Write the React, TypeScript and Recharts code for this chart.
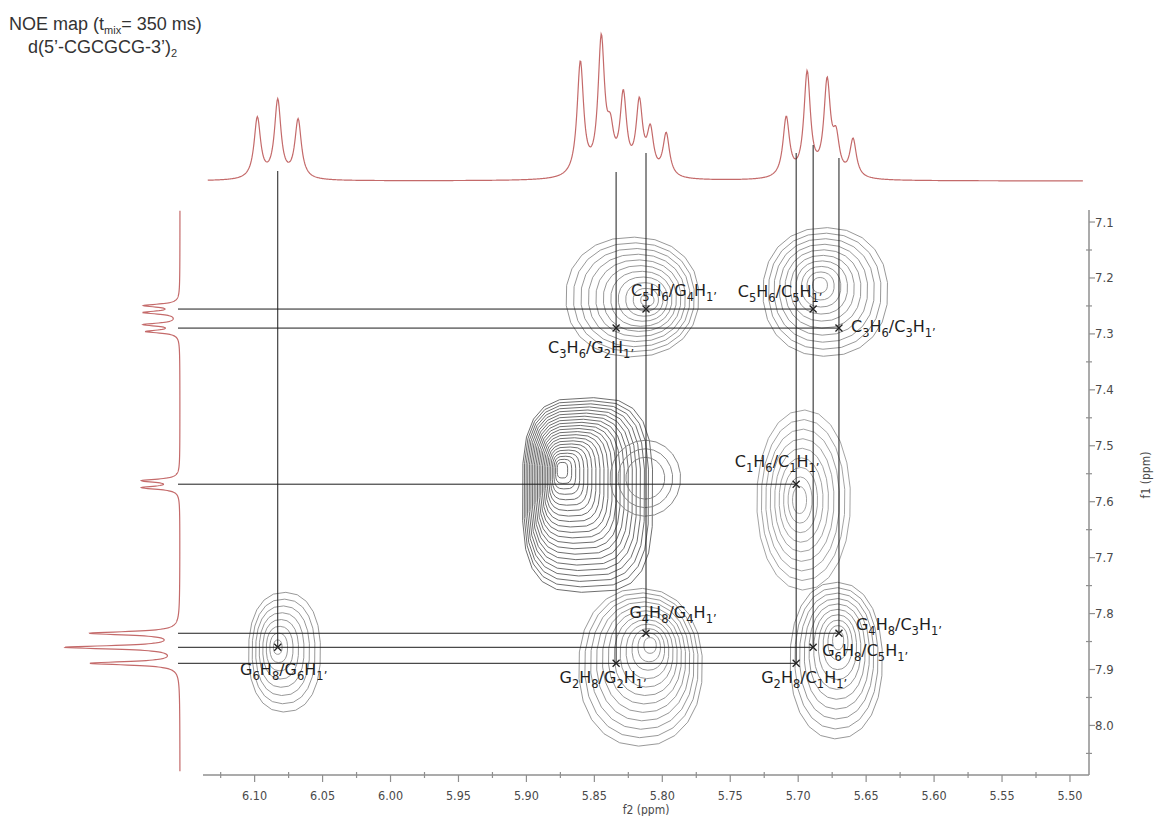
import React from "react";
import { ComposedChart, Line, Scatter, XAxis, YAxis } from "recharts";

const W = 1159;
const H = 816;

// H1' sugar protons, f2 shift (ppm)
const sugarNames = ["G6", "G2", "G4", "C1", "C5", "C3"];
const sugarShifts = [6.083, 5.834, 5.812, 5.7015, 5.689, 5.67];

// aromatic H6/H8 protons, f1 shift (ppm)
const baseNames = ["C5H6", "C3H6", "C1H6", "G4H8", "G6H8", "G2H8"];
const baseShifts = [7.2556, 7.2896, 7.5687, 7.8352, 7.8603, 7.8889];

// assigned NOE cross peaks (aromatic proton / H1')
const crossBase = ["C5H6", "C5H6", "C3H6", "C3H6", "C1H6", "G4H8", "G4H8", "G6H8", "G6H8", "G2H8", "G2H8"];
const crossSugar = ["G4", "C5", "C3", "G2", "C1", "G4", "C3", "G6", "C5", "G2", "C1"];

// 1D trace on top (f2): peak ppm, height, half width
const topPeakPpm = [6.098, 6.083, 6.068, 5.8603, 5.8449, 5.8382, 5.8287, 5.8169, 5.8088, 5.7971, 5.7088, 5.6934, 5.6787, 5.6721, 5.6596];
const topPeakHeight = [61, 78, 59, 114, 134, 36, 78, 71, 43, 43, 60, 104, 93, 35, 38];
const topPeakWidth = 0.0029;

// 1D trace on the left (f1)
const sidePeakPpm = [7.2494, 7.2618, 7.2834, 7.2958, 7.5625, 7.575, 7.8352, 7.8603, 7.8889];
const sidePeakHeight = [34, 34, 34, 32, 36, 36, 88, 112, 88];
const sidePeakWidth = [0.0032, 0.0032, 0.0032, 0.0032, 0.0034, 0.0034, 0.0036, 0.0036, 0.0036];

// contour groups: outer centre, core centre, half widths, number of levels
const blobF2 = [6.078, 5.822, 5.68, 5.855, 5.8125, 5.696, 5.816, 5.672];
const blobF1 = [7.869, 7.234, 7.225, 7.588, 7.558, 7.597, 7.896, 7.884];
const blobCoreF2 = [6.083, 5.811, 5.684, 5.8735, 5.8125, 5.699, 5.809, 5.6706];
const blobCoreF1 = [7.86, 7.2395, 7.213, 7.5437, 7.558, 7.597, 7.857, 7.848];
const blobHalfF2 = [0.0265, 0.049, 0.046, 0.048, 0.026, 0.0345, 0.0456, 0.034];
const blobHalfF1 = [0.107, 0.107, 0.115, 0.174, 0.068, 0.161, 0.141, 0.14];
const blobLevels = [8, 11, 10, 22, 3, 9, 12, 10];

// axes
const f2Domain = [5.486, 6.138];
const f1Domain = [7.0785, 8.0886];
const f2Major = [6.1, 6.05, 6.0, 5.95, 5.9, 5.85, 5.8, 5.75, 5.7, 5.65, 5.6, 5.55, 5.5];
const f2Minor = [6.125, 6.075, 6.025, 5.975, 5.925, 5.875, 5.825, 5.775, 5.725, 5.675, 5.625, 5.575, 5.525];
const f1Major = [7.1, 7.2, 7.3, 7.4, 7.5, 7.6, 7.7, 7.8, 7.9, 8.0];
const f1Minor = [7.15, 7.25, 7.35, 7.45, 7.55, 7.65, 7.75, 7.85, 7.95, 8.05];

// ---- styles ----
const specColor = "#c46a6a";
const guideColor = "#1c1c1c";
const axisColor = "#8f8f8f";
const tickText = "#4a4a4a";
const labelFont = "'DejaVu Sans', Verdana, sans-serif";
const tickFont = "'DejaVu Sans Condensed', 'Liberation Sans Narrow', 'Liberation Sans', sans-serif";
const blobColor = ["#8c8c8c", "#8c8c8c", "#8c8c8c", "#5e5e5e", "#7a7a7a", "#9a9a9a", "#8c8c8c", "#8c8c8c"];
const blobInner = [0.12, 0.1, 0.12, 0.08, 0.55, 0.15, 0.1, 0.12];
const blobShape = [2.3, 2.2, 2.2, 3.2, 2.0, 2.1, 2.2, 2.2];
// where each vertical guide starts under the top trace (trace units)
const guideStart: Record<string, number> = { G6: 10, G2: 9, G4: 28, C1: 28, C5: 36, C3: 23 };
// label placement next to each cross mark (px)
const labelPos = [
  { a: "middle", dx: 28, dy: -13 },
  { a: "middle", dx: -33, dy: -12 },
  { a: "start", dx: 12, dy: 4 },
  { a: "middle", dx: -25, dy: 25 },
  { a: "middle", dx: -19, dy: -17 },
  { a: "middle", dx: 27, dy: -15 },
  { a: "start", dx: 17, dy: -3 },
  { a: "middle", dx: 6, dy: 28 },
  { a: "start", dx: 9, dy: 9 },
  { a: "middle", dx: -13, dy: 20 },
  { a: "middle", dx: 8, dy: 20 },
];

function lorentz(x: number, p: number, h: number, w: number) {
  const d = (x - p) / w;
  return h / (1 + d * d);
}

const topSpectrum: { f2: number; i: number }[] = [];
for (let v = 6.1345; v >= 5.4905; v -= 0.0005) {
  let i = 0;
  topPeakPpm.forEach((p, k) => (i += lorentz(v, p, topPeakHeight[k], topPeakWidth)));
  topSpectrum.push({ f2: v, i });
}

const sideSpectrum: { f1: number; i: number }[] = [];
for (let v = 7.08; v <= 8.082; v += 0.0005) {
  let i = 0;
  sidePeakPpm.forEach((p, k) => (i += lorentz(v, p, sidePeakHeight[k], sidePeakWidth[k])));
  sideSpectrum.push({ f1: v, i });
}

const sugarShift = (n: string) => sugarShifts[sugarNames.indexOf(n)];
const baseShift = (n: string) => baseShifts[baseNames.indexOf(n)];

const crossPoints = crossBase.map((b, k) => ({ x: sugarShift(crossSugar[k]), y: baseShift(b), idx: k }));

// guide lines run from the traces to the furthest cross peak
const verticalGuides = sugarNames.map((n) => {
  const ys = crossPoints.filter((c) => crossSugar[c.idx] === n).map((c) => c.y);
  return { name: n, x: sugarShift(n), yEnd: Math.max(...ys) };
});
const horizontalGuides = baseNames.map((n) => {
  const xs = crossPoints.filter((c) => crossBase[c.idx] === n).map((c) => c.x);
  return { name: n, y: baseShift(n), xEnd: Math.min(...xs) };
});

function contourRings(b: number) {
  const rings: { x: number; y: number }[][] = [];
  const n = blobLevels[b];
  for (let l = 0; l < n; l++) {
    const t = n === 1 ? 0 : l / (n - 1);
    const s = 1 - t * (1 - blobInner[b]);
    const cx = blobF2[b] + (blobCoreF2[b] - blobF2[b]) * t;
    const cy = blobF1[b] + (blobCoreF1[b] - blobF1[b]) * t;
    const e = 2 / blobShape[b];
    const pts: { x: number; y: number }[] = [];
    for (let k = 0; k <= 22; k++) {
      const a = (k / 22) * Math.PI * 2 + 0.12;
      const c = Math.cos(a);
      const sn = Math.sin(a);
      pts.push({
        x: cx + blobHalfF2[b] * s * Math.sign(c) * Math.pow(Math.abs(c), e),
        y: cy + blobHalfF1[b] * s * Math.sign(sn) * Math.pow(Math.abs(sn), e),
      });
    }
    rings.push(pts);
  }
  return rings;
}

function labelParts(base: string, sugar: string): [string, boolean][] {
  return [
    [base[0], false], [base[1], true], [base[2], false], [base[3], true], ["/", false],
    [sugar[0], false], [sugar[1], true], ["H", false], ["1\u2019", true],
  ];
}

function NoeLabel(props: { x: number; y: number; anchor: string; base: string; sugar: string }) {
  const ps = labelParts(props.base, props.sugar);
  return (
    <text x={props.x} y={props.y} textAnchor={props.anchor as any} fontFamily={labelFont} fontSize={16} fill="#1e1e1e">
      {ps.map(([s, sub], k) => {
        const prevSub = k > 0 && ps[k - 1][1];
        const dy = sub && !prevSub ? 4.5 : !sub && prevSub ? -4.5 : 0;
        return (
          <tspan key={k} dy={dy} fontSize={sub ? 11.5 : 16}>
            {s}
          </tspan>
        );
      })}
    </text>
  );
}

const CrossMark = (props: any) => {
  const { cx, cy, payload } = props;
  const lp = labelPos[payload.idx];
  const r = 3.5;
  return (
    <g>
      <path d={`M${cx - r},${cy - r}L${cx + r},${cy + r}M${cx - r},${cy + r}L${cx + r},${cy - r}`} stroke="#222" strokeWidth={1.3} />
      <NoeLabel x={cx + lp.dx} y={cy + lp.dy} anchor={lp.a} base={crossBase[payload.idx]} sugar={crossSugar[payload.idx]} />
    </g>
  );
};

const isMajor = (v: number, list: number[]) => list.some((m) => Math.abs(m - v) < 1e-6);

const F2Tick = (props: any) => {
  const { x, y, payload } = props;
  const v = payload.value;
  if (isMajor(v, f2Major)) {
    return (
      <g>
        <line x1={x} x2={x} y1={y} y2={y + 7} stroke={axisColor} strokeWidth={1.2} />
        <text x={x} y={y + 25} textAnchor="middle" fontFamily={tickFont} fontSize={12.5} fill={tickText}>
          {v.toFixed(2)}
        </text>
      </g>
    );
  }
  return <line x1={x} x2={x} y1={y - 3} y2={y + 3} stroke={axisColor} strokeWidth={1.2} />;
};

const F1Tick = (props: any) => {
  const { x, y, payload } = props;
  const v = payload.value;
  if (isMajor(v, f1Major)) {
    return (
      <g>
        <line x1={x} x2={x + 6} y1={y} y2={y} stroke={axisColor} strokeWidth={1.2} />
        <text x={x + 6} y={y + 4.5} textAnchor="start" fontFamily={tickFont} fontSize={13} fill={tickText}>
          {v.toFixed(1)}
        </text>
      </g>
    );
  }
  return <line x1={x - 3} x2={x + 3} y1={y} y2={y} stroke={axisColor} strokeWidth={1.2} />;
};

const layer: React.CSSProperties = { position: "absolute", left: 0, top: 0 };

export default function App() {
  const rings = blobF2.map((_, b) => contourRings(b));
  return (
    <div style={{ position: "absolute", left: 0, top: 0, width: W, height: H, background: "#fff", overflow: "hidden" }}>
      {/* 2D map */}
      <div style={layer}>
        <ComposedChart width={W} height={H} margin={{ top: 210, right: 10, bottom: 11, left: 203 }}>
          <XAxis
            type="number"
            dataKey="x"
            domain={f2Domain}
            reversed
            allowDataOverflow
            ticks={[...f2Major, ...f2Minor].sort((a, b) => b - a)}
            interval={0}
            tick={<F2Tick />}
            tickLine={false}
            tickSize={0}
            tickMargin={0}
            height={30}
            axisLine={{ stroke: axisColor, strokeWidth: 1.5 }}
          />
          <YAxis
            type="number"
            dataKey="y"
            orientation="right"
            domain={f1Domain}
            reversed
            allowDataOverflow
            ticks={[...f1Major, ...f1Minor].sort((a, b) => a - b)}
            interval={0}
            tick={<F1Tick />}
            tickLine={false}
            tickSize={0}
            tickMargin={0}
            width={60}
            axisLine={{ stroke: axisColor, strokeWidth: 1.5 }}
          />
          {rings.map((rs, b) =>
            rs.map((pts, l) => (
              <Line
                key={`c${b}-${l}`}
                data={pts}
                dataKey="y"
                stroke={blobColor[b]}
                strokeWidth={0.9}
                dot={false}
                activeDot={false}
                isAnimationActive={false}
              />
            ))
          )}
          {verticalGuides.map((g) => (
            <Line
              key={`v${g.name}`}
              data={[{ x: g.x, y: f1Domain[0] }, { x: g.x, y: g.yEnd }]}
              dataKey="y"
              stroke={guideColor}
              strokeWidth={1}
              dot={false}
              activeDot={false}
              isAnimationActive={false}
            />
          ))}
          {horizontalGuides.map((g) => (
            <Line
              key={`h${g.name}`}
              data={[{ x: f2Domain[1], y: g.y }, { x: g.xEnd, y: g.y }]}
              dataKey="y"
              stroke={guideColor}
              strokeWidth={1}
              dot={false}
              activeDot={false}
              isAnimationActive={false}
            />
          ))}
          <Scatter data={crossPoints} shape={<CrossMark />} isAnimationActive={false} />
        </ComposedChart>
      </div>

      {/* f2 projection on top */}
      <div style={layer}>
        <ComposedChart width={W} height={H} margin={{ top: 30, right: 70, bottom: H - 210, left: 203 }}>
          <XAxis type="number" dataKey="f2" domain={f2Domain} reversed allowDataOverflow hide />
          <YAxis type="number" domain={[-29, 151]} allowDataOverflow hide />
          <Line data={topSpectrum} dataKey="i" stroke={specColor} strokeWidth={1.2} dot={false} activeDot={false} isAnimationActive={false} />
          {verticalGuides.map((g) => (
            <Line
              key={`tv${g.name}`}
              data={[{ f2: g.x, i: guideStart[g.name] }, { f2: g.x, i: -29 }]}
              dataKey="i"
              stroke={guideColor}
              strokeWidth={1}
              dot={false}
              activeDot={false}
              isAnimationActive={false}
            />
          ))}
        </ComposedChart>
      </div>

      {/* f1 projection on the left (vertical layout already runs top to bottom) */}
      <div style={layer}>
        <ComposedChart layout="vertical" width={W} height={H} margin={{ top: 210, right: W - 203, bottom: 41, left: 40 }}>
          <XAxis type="number" domain={[-23, 140]} reversed allowDataOverflow hide />
          <YAxis type="number" dataKey="f1" domain={f1Domain} allowDataOverflow hide />
          <Line data={sideSpectrum} dataKey="i" stroke={specColor} strokeWidth={1.2} dot={false} activeDot={false} isAnimationActive={false} />
          {horizontalGuides.map((g) => (
            <Line
              key={`lh${g.name}`}
              data={[{ f1: g.y, i: 2 }, { f1: g.y, i: -23 }]}
              dataKey="i"
              stroke={guideColor}
              strokeWidth={1}
              dot={false}
              activeDot={false}
              isAnimationActive={false}
            />
          ))}
        </ComposedChart>
      </div>

      {/* titles */}
      <svg style={{ ...layer, pointerEvents: "none" }} width={W} height={H}>
        <text x={9} y={30} fontFamily="'Liberation Sans', Arial, sans-serif" fontSize={18} fill="#333">
          NOE map (t<tspan dy={4} fontSize={11}>mix</tspan>
          <tspan dy={-4}>= 350 ms)</tspan>
        </text>
        <text x={28} y={53} fontFamily="'Liberation Sans', Arial, sans-serif" fontSize={18} fill="#333">
          d(5&#8217;-CGCGCG-3&#8217;)<tspan dy={4} fontSize={11}>2</tspan>
        </text>
        <text x={646} y={814} textAnchor="middle" fontFamily={tickFont} fontSize={12} fill={tickText}>
          f2 (ppm)
        </text>
        <text
          x={1150}
          y={475}
          textAnchor="middle"
          transform="rotate(-90 1150 475)"
          fontFamily={tickFont}
          fontSize={12}
          fill={tickText}
        >
          f1 (ppm)
        </text>
      </svg>
    </div>
  );
}
